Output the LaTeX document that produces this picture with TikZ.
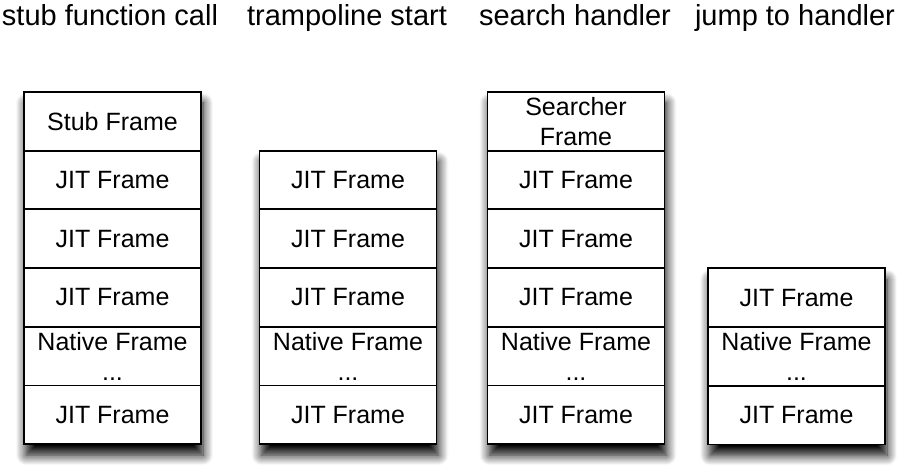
\documentclass[tikz,border=0pt]{standalone}
\usepackage{fontspec}
\setmainfont{Liberation Sans}
\usetikzlibrary{positioning, fit, backgrounds, shadows.blur}

\tikzset{
  frame/.style={draw=black, line width=1.8pt, fill=white, minimum width=177pt,
    minimum height=58.7pt, inner sep=0pt, outer sep=0pt, align=center,
    font=\fontsize{25}{30}\selectfont},
  title/.style={anchor=base, font=\fontsize{29}{32}\selectfont},
  stackshadow/.style={fill=white, inner sep=0pt, blur shadow={shadow xshift=2pt,
    shadow yshift=-11pt, shadow blur radius=10pt, shadow blur steps=10,
    shadow opacity=100}}
}

\begin{document}
\begin{tikzpicture}[x=1pt, y=-1pt]
\useasboundingbox (0,0) rectangle (907,475);

% titles
\node[title] (t1) at (110,25) {stub function call};
\node[title] (t2) at (347,25) {trampoline start};
\node[title] (t3) at (575,25) {search handler};
\node[title] (t4) at (795,25) {jump to handler};

% stub function call
\node[frame] (call1) at (112.5,121.3) {Stub Frame};
\node[frame, below=0pt of call1] (call2) {JIT Frame};
\node[frame, below=0pt of call2] (call3) {JIT Frame};
\node[frame, below=0pt of call3] (call4) {JIT Frame};
\node[frame, below=0pt of call4] (call5) {Native Frame\\...};
\node[frame, below=0pt of call5] (call6) {JIT Frame};

% trampoline start
\node[frame] (tramp1) at (348,180) {JIT Frame};
\node[frame, below=0pt of tramp1] (tramp2) {JIT Frame};
\node[frame, below=0pt of tramp2] (tramp3) {JIT Frame};
\node[frame, below=0pt of tramp3] (tramp4) {Native Frame\\...};
\node[frame, below=0pt of tramp4] (tramp5) {JIT Frame};

% search handler
\node[frame] (search1) at (576,121.3) {Searcher\\Frame};
\node[frame, below=0pt of search1] (search2) {JIT Frame};
\node[frame, below=0pt of search2] (search3) {JIT Frame};
\node[frame, below=0pt of search3] (search4) {JIT Frame};
\node[frame, below=0pt of search4] (search5) {Native Frame\\...};
\node[frame, below=0pt of search5] (search6) {JIT Frame};

% jump to handler
\node[frame] (jump1) at (796.5,297.7) {JIT Frame};
\node[frame, below=0pt of jump1] (jump2) {Native Frame\\...};
\node[frame, below=0pt of jump2] (jump3) {JIT Frame};

% shadows behind each stack
\begin{scope}[on background layer]
\node[stackshadow, fit={(call1)(call6)}] {};
\node[stackshadow, fit={(tramp1)(tramp5)}] {};
\node[stackshadow, fit={(search1)(search6)}] {};
\node[stackshadow, fit={(jump1)(jump3)}] {};
\end{scope}
\end{tikzpicture}
\end{document}
